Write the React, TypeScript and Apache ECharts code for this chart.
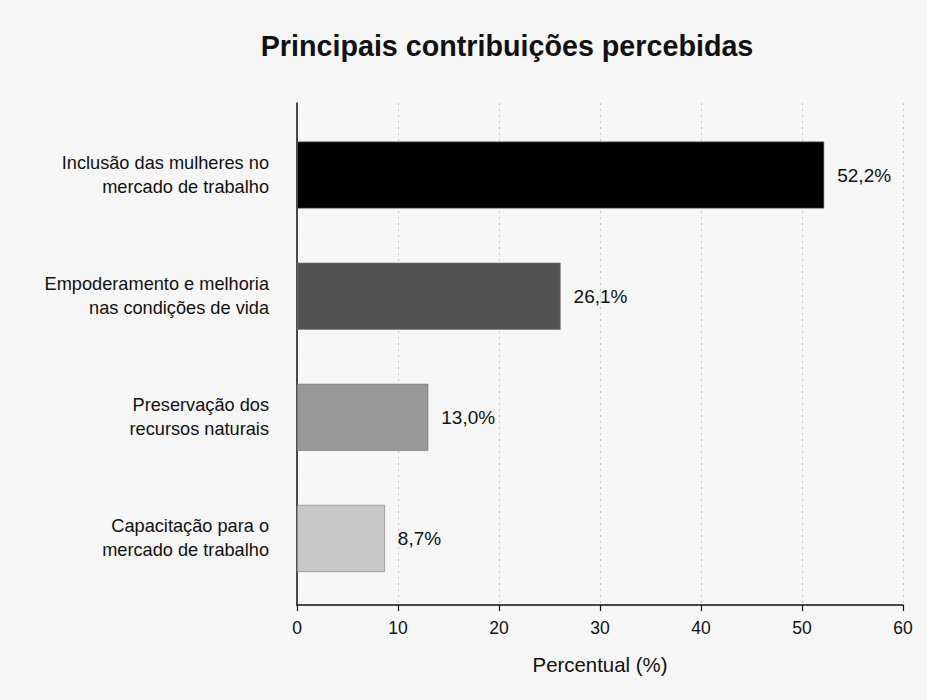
import React, { useEffect, useRef } from "react";
import * as echarts from "echarts";

const TITLE = "Principais contribuições percebidas";
const categories = [
  "Inclusão das mulheres no\nmercado de trabalho",
  "Empoderamento e melhoria\nnas condições de vida",
  "Preservação dos\nrecursos naturais",
  "Capacitação para o\nmercado de trabalho",
];
const values = [52.2, 26.1, 13.0, 8.7];
const barColors = ["#000000", "#525252", "#989898", "#c8c8c8"];
const X_NAME = "Percentual (%)";
const X_MIN = 0;
const X_MAX = 60;
const X_STEP = 10;

const FONT = "'Liberation Sans', Arial, Helvetica, sans-serif";

const fmt = (v: number) => v.toFixed(1).replace(".", ",") + "%";

export default function App() {
  const ref = useRef<HTMLDivElement>(null);
  useEffect(() => {
    document.body.style.margin = "0";
    const chart = echarts.init(ref.current!, null, { renderer: "svg" });
    chart.setOption({
      animation: false,
      backgroundColor: "#f6f6f6",
      textStyle: { fontFamily: FONT, color: "#111" },
      graphic: [
        {
          type: "text",
          x: 507,
          y: 46,
          style: {
            text: TITLE,
            fontFamily: FONT,
            fontSize: 28.7,
            fontWeight: "bold",
            fill: "#111",
            align: "center",
            verticalAlign: "middle",
          },
        },
      ],
      grid: [
        { left: 297, right: 24, top: 103, bottom: 95 },
        { left: 297, right: 24, top: 114.5, bottom: 101 },
      ],
      xAxis: [
        {
          gridIndex: 0,
          type: "value",
          min: X_MIN,
          max: X_MAX,
          interval: X_STEP,
          axisLine: { show: true, lineStyle: { color: "#111", width: 1.5 } },
          axisTick: { show: true, length: 6, lineStyle: { color: "#111", width: 1.2 } },
          axisLabel: { fontSize: 17.5, color: "#111", margin: 14, fontFamily: FONT },
          splitLine: { show: true, lineStyle: { type: [2, 4], color: "#c4c4c4", width: 1 } },
          name: X_NAME,
          nameLocation: "middle",
          nameGap: 50,
          nameTextStyle: { fontSize: 20.4, color: "#111", fontFamily: FONT },
        },
        {
          gridIndex: 1,
          type: "value",
          min: X_MIN,
          max: X_MAX,
          show: false,
        },
      ],
      yAxis: [
        {
          gridIndex: 0,
          type: "value",
          min: 0,
          max: 1,
          axisLine: { show: true, lineStyle: { color: "#111", width: 1.5 } },
          axisTick: { show: false },
          axisLabel: { show: false },
          splitLine: { show: false },
        },
        {
          gridIndex: 1,
          type: "category",
          inverse: true,
          data: categories,
          axisLine: { show: false },
          axisTick: { show: false },
          splitLine: { show: false },
          axisLabel: {
            fontSize: 18.2,
            lineHeight: 24,
            color: "#111",
            margin: 28,
            align: "right",
            fontFamily: FONT,
          },
        },
      ],
      series: [
        {
          type: "bar",
          xAxisIndex: 1,
          yAxisIndex: 1,
          barWidth: 67,
          data: values.map((v, i) => ({
            value: v,
            itemStyle: { color: barColors[i], borderColor: "#777", borderWidth: 0.6 },
          })),
          label: {
            show: true,
            position: "right",
            distance: 13,
            fontSize: 19,
            color: "#111",
            fontFamily: FONT,
            formatter: (p: any) => fmt(p.value),
          },
        },
      ],
    });
    return () => chart.dispose();
  }, []);
  return <div ref={ref} style={{ width: 927, height: 700 }} />;
}
